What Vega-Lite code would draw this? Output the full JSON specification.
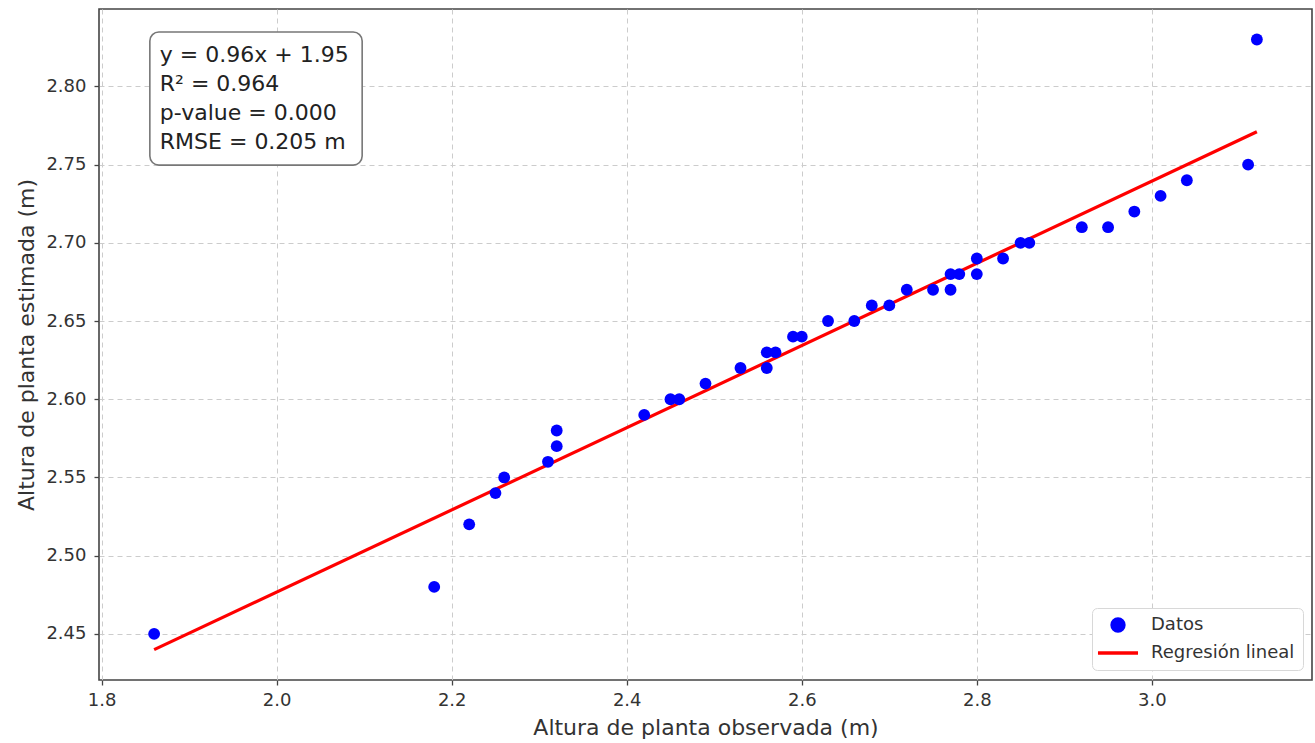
{
  "$schema": "https://vega.github.io/schema/vega-lite/v6.json",
  "width": 1213,
  "height": 671,
  "autosize": {"type": "none"},
  "padding": {"left": 99, "top": 9, "right": 3, "bottom": 63},
  "background": "white",
  "config": {
    "font": "DejaVu Sans",
    "view": {"stroke": "#444", "strokeWidth": 1.6},
    "axis": {
      "domain": false,
      "grid": true,
      "gridColor": "#cccccc",
      "gridDash": [5, 4],
      "gridWidth": 1,
      "tickColor": "#444",
      "tickSize": 5,
      "tickWidth": 1.3,
      "labelFont": "DejaVu Sans",
      "labelFontSize": 18,
      "labelColor": "#333",
      "titleFont": "DejaVu Sans",
      "titleFontSize": 22,
      "titleFontWeight": "normal",
      "titleColor": "#333"
    }
  },
  "datasets": {
    "puntos": [
      {"obs": 1.86, "est": 2.45, "serie": "Datos"},
      {"obs": 2.18, "est": 2.48, "serie": "Datos"},
      {"obs": 2.22, "est": 2.52, "serie": "Datos"},
      {"obs": 2.25, "est": 2.54, "serie": "Datos"},
      {"obs": 2.26, "est": 2.55, "serie": "Datos"},
      {"obs": 2.31, "est": 2.56, "serie": "Datos"},
      {"obs": 2.32, "est": 2.57, "serie": "Datos"},
      {"obs": 2.32, "est": 2.58, "serie": "Datos"},
      {"obs": 2.42, "est": 2.59, "serie": "Datos"},
      {"obs": 2.45, "est": 2.60, "serie": "Datos"},
      {"obs": 2.46, "est": 2.60, "serie": "Datos"},
      {"obs": 2.49, "est": 2.61, "serie": "Datos"},
      {"obs": 2.53, "est": 2.62, "serie": "Datos"},
      {"obs": 2.56, "est": 2.62, "serie": "Datos"},
      {"obs": 2.56, "est": 2.63, "serie": "Datos"},
      {"obs": 2.57, "est": 2.63, "serie": "Datos"},
      {"obs": 2.59, "est": 2.64, "serie": "Datos"},
      {"obs": 2.60, "est": 2.64, "serie": "Datos"},
      {"obs": 2.63, "est": 2.65, "serie": "Datos"},
      {"obs": 2.66, "est": 2.65, "serie": "Datos"},
      {"obs": 2.68, "est": 2.66, "serie": "Datos"},
      {"obs": 2.70, "est": 2.66, "serie": "Datos"},
      {"obs": 2.72, "est": 2.67, "serie": "Datos"},
      {"obs": 2.75, "est": 2.67, "serie": "Datos"},
      {"obs": 2.77, "est": 2.67, "serie": "Datos"},
      {"obs": 2.77, "est": 2.68, "serie": "Datos"},
      {"obs": 2.78, "est": 2.68, "serie": "Datos"},
      {"obs": 2.80, "est": 2.68, "serie": "Datos"},
      {"obs": 2.80, "est": 2.69, "serie": "Datos"},
      {"obs": 2.83, "est": 2.69, "serie": "Datos"},
      {"obs": 2.85, "est": 2.70, "serie": "Datos"},
      {"obs": 2.86, "est": 2.70, "serie": "Datos"},
      {"obs": 2.92, "est": 2.71, "serie": "Datos"},
      {"obs": 2.95, "est": 2.71, "serie": "Datos"},
      {"obs": 2.98, "est": 2.72, "serie": "Datos"},
      {"obs": 3.01, "est": 2.73, "serie": "Datos"},
      {"obs": 3.04, "est": 2.74, "serie": "Datos"},
      {"obs": 3.11, "est": 2.75, "serie": "Datos"},
      {"obs": 3.12, "est": 2.83, "serie": "Datos"}
    ],
    "recta": [
      {"obs": 1.86, "est": 2.4399, "serie": "Regresión lineal"},
      {"obs": 3.12, "est": 2.7710, "serie": "Regresión lineal"}
    ],
    "caja": [
      {"x1": 1.8551, "x2": 2.0977, "y1": 2.8348, "y2": 2.7497}
    ],
    "texto": [
      {"x": 1.8665, "y": 2.8158, "t": "y = 0.96x + 1.95\nR² = 0.964\np-value = 0.000\nRMSE = 0.205 m"}
    ]
  },
  "layer": [
    {
      "data": {"name": "recta"},
      "mark": {"type": "line", "strokeWidth": 3.2},
      "encoding": {
        "x": {
          "field": "obs", "type": "quantitative",
          "scale": {"domain": [1.797, 3.183], "nice": false, "zero": false},
          "axis": {"title": "Altura de planta observada (m)", "values": [1.8, 2.0, 2.2, 2.4, 2.6, 2.8, 3.0], "format": ".1f", "labelPadding": 6, "titlePadding": 8}
        },
        "y": {
          "field": "est", "type": "quantitative",
          "scale": {"domain": [2.4205, 2.8495], "nice": false, "zero": false},
          "axis": {"title": "Altura de planta estimada (m)", "values": [2.45, 2.5, 2.55, 2.6, 2.65, 2.7, 2.75, 2.8], "format": ".2f", "labelPadding": 8, "titlePadding": 7}
        },
        "color": {
          "field": "serie", "type": "nominal",
          "scale": {"domain": ["Datos", "Regresión lineal"], "range": ["#0000ff", "#ff0000"]},
          "legend": {
            "title": null,
            "orient": "none",
            "legendX": 993,
            "legendY": 599,
            "fillColor": "white",
            "strokeColor": "#d8d8d8",
            "cornerRadius": 5,
            "padding": 8,
            "labelFont": "DejaVu Sans",
            "labelFontSize": 18,
            "labelColor": "#333",
            "labelOffset": 24,
            "rowPadding": 6,
            "symbolSize": 196,
            "symbolOffset": 9,
            "symbolType": "circle",
            "symbolStrokeWidth": 3.5,
            "encode": {
              "symbols": {
                "update": {
                  "shape": {"signal": "datum.value === 'Datos' ? 'circle' : 'M-2.86,0H2.86'"},
                  "size": {"signal": "datum.value === 'Datos' ? 140 : 196"},
                  "fill": {"signal": "datum.value === 'Datos' ? '#0000ff' : 'transparent'"},
                  "stroke": {"signal": "datum.value === 'Datos' ? 'transparent' : '#ff0000'"},
                  "strokeWidth": {"value": 3.5},
                  "opacity": {"value": 1}
                }
              }
            }
          }
        }
      }
    },
    {
      "data": {"name": "puntos"},
      "mark": {"type": "point", "filled": true, "size": 140, "opacity": 1, "shape": "circle"},
      "encoding": {
        "x": {"field": "obs", "type": "quantitative"},
        "y": {"field": "est", "type": "quantitative"},
        "color": {"field": "serie", "type": "nominal"}
      }
    },
    {
      "data": {"name": "caja"},
      "mark": {"type": "rect", "fill": "white", "stroke": "#777", "strokeWidth": 1.6, "cornerRadius": 9},
      "encoding": {
        "x": {"field": "x1", "type": "quantitative"},
        "x2": {"field": "x2"},
        "y": {"field": "y1", "type": "quantitative"},
        "y2": {"field": "y2"}
      }
    },
    {
      "data": {"name": "texto"},
      "mark": {"type": "text", "align": "left", "baseline": "alphabetic", "fontSize": 22, "font": "DejaVu Sans", "color": "#222", "lineBreak": "\n", "lineHeight": 29},
      "encoding": {
        "x": {"field": "x", "type": "quantitative"},
        "y": {"field": "y", "type": "quantitative"},
        "text": {"field": "t"}
      }
    }
  ]
}
